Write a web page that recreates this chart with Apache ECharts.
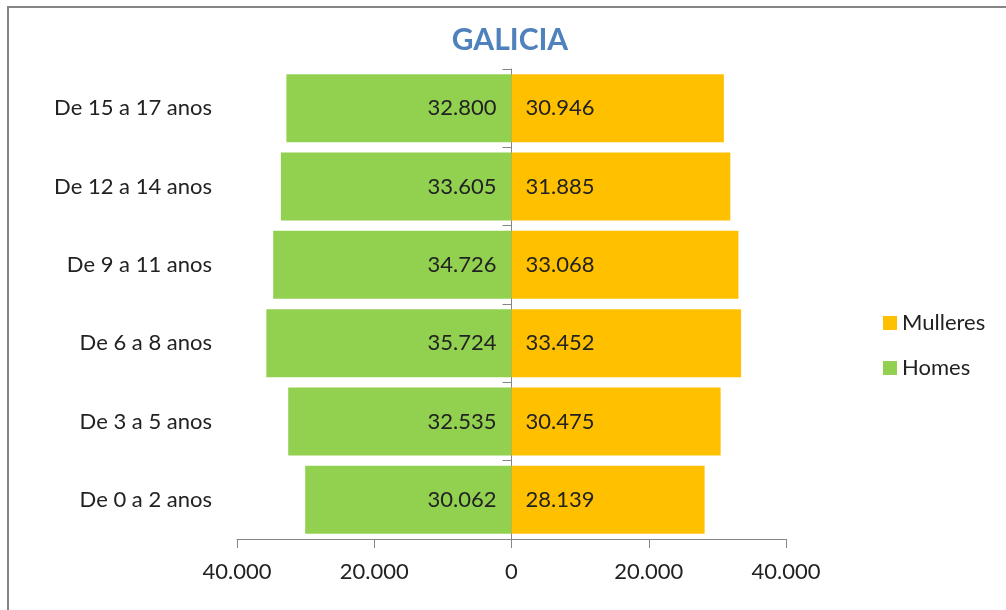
<!DOCTYPE html>
<html>
<head>
<meta charset="utf-8">
<script src="https://cdn.jsdelivr.net/npm/echarts@6/dist/echarts.min.js"></script>
<style>
    html, body {margin: 0; padding: 0; background: #fff;}
    #chart {width: 1006px; height: 610px;}
</style>
</head>
<body>
<div id="chart"></div>
<script>
var categories = ['De 0 a 2 anos', 'De 3 a 5 anos', 'De 6 a 8 anos', 'De 9 a 11 anos', 'De 12 a 14 anos', 'De 15 a 17 anos'];
var homes = [30062, 32535, 35724, 34726, 33605, 32800];
var mulleres = [28139, 30475, 33452, 33068, 31885, 30946];
var xTicks = {min: -40000, max: 40000, interval: 20000};

var font = 'Lato, "Open Sans", sans-serif';

// numero con punto de miles, sen signo
function fmt(v) {
    v = Math.abs(Math.round(v));
    return String(v).replace(/\B(?=(\d{3})+(?!\d))/g, '.');
}

var chart = echarts.init(document.getElementById('chart'));
var option = {
    animation: false,
    backgroundColor: '#fff',
    title: {
        text: 'GALICIA',
        left: 505,
        textAlign: 'center',
        top: 20,
        textStyle: {color: '#4F81BD', fontSize: 30, fontWeight: 'bold', fontFamily: font}
    },
    graphic: [{
        type: 'rect',
        shape: {x: 8, y: 7, width: 1200, height: 800},
        style: {fill: 'none', stroke: '#868686', lineWidth: 2},
        silent: true
    }],
    legend: {
        data: ['Mulleres', 'Homes'],
        orient: 'vertical',
        left: 878,
        top: 307,
        icon: 'rect',
        itemWidth: 14,
        itemHeight: 14,
        itemGap: 23,
        textStyle: {fontSize: 22, color: '#222', fontFamily: font}
    },
    grid: {left: 237, right: 220, top: 69, bottom: 71, containLabel: false, outerBoundsMode: 'none'},
    xAxis: {
        type: 'value',
        min: xTicks.min,
        max: xTicks.max,
        interval: xTicks.interval,
        splitLine: {show: false},
        axisLine: {show: true, lineStyle: {color: '#868686'}},
        axisTick: {show: true, length: 9, lineStyle: {color: '#868686'}},
        axisLabel: {
            fontSize: 22, color: '#222', fontFamily: font, margin: 22,
            formatter: function (v) { return fmt(v); }
        }
    },
    yAxis: {
        type: 'category',
        data: categories,
        axisLine: {show: true, onZero: true, lineStyle: {color: '#868686'}},
        axisTick: {show: true, length: 9, lineStyle: {color: '#868686'}},
        axisLabel: {fontSize: 22, color: '#222', fontFamily: font, margin: 25}
    },
    series: [
        {
            name: 'Homes',
            type: 'bar',
            stack: 'total',
            barWidth: 68,
            data: homes.map(function (v) { return -v; }),
            itemStyle: {color: '#92D050'},
            label: {
                show: true, position: 'insideRight', distance: 15,
                fontSize: 22, color: '#222', fontFamily: font,
                formatter: function (p) { return fmt(p.value); }
            }
        },
        {
            name: 'Mulleres',
            type: 'bar',
            stack: 'total',
            barWidth: 68,
            data: mulleres,
            itemStyle: {color: '#FFC000'},
            label: {
                show: true, position: 'insideLeft', distance: 14,
                fontSize: 22, color: '#222', fontFamily: font,
                formatter: function (p) { return fmt(p.value); }
            }
        }
    ]
};
chart.setOption(option);
</script>
</body>
</html>
